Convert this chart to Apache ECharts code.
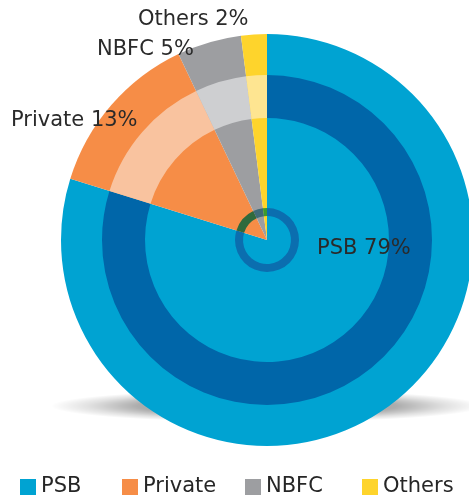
<!DOCTYPE html>
<html>
<head>
<meta charset="utf-8">
<script src="https://cdn.jsdelivr.net/npm/echarts@6/dist/echarts.min.js"></script>
<style>
	html, body { margin: 0; padding: 0; background: #fff; }
	#chart { width: 469px; height: 499px; }
</style>
</head>
<body>
<div id="chart"></div>
<script>
	// 数据
	var categories = ['PSB', 'Private', 'NBFC', 'Others'];
	var shares = [79, 13, 5, 2];
	// 颜色
	var mainColors = ['#00a3d2', '#f68d47', '#9d9ea1', '#fed42c'];
	var ringColors = ['#0066a9', '#f9c39f', '#cecfd1', '#fee591'];
	var hubColors = ['#0b6eaf', '#2f6a3d', '#3f6b78', '#3c9a2e'];
	// 标签位置（左, 中）
	var labelPos = [[317, 249], [11, 121], [97, 50], [138, 20]];
	// 图例位置
	var legendLeft = [20, 122, 245, 362];

	var font = 'DejaVu Sans';
	var cx = 267, cy = 240;

	function buildData(colors) {
		return categories.map(function(name, i) {
			return { name: name, value: shares[i], itemStyle: { color: colors[i] } };
		});
	}

	var myChart = echarts.init(document.getElementById('chart'));
	var option = {
		animation: false,
		legend: categories.map(function(name, i) {
			return {
				top: 476,
				left: legendLeft[i],
				padding: 0,
				icon: 'rect',
				itemWidth: 16, itemHeight: 16,
				selectedMode: false,
				data: [name],
				textStyle: { fontFamily: font, fontSize: 21, color: '#262626', lineHeight: 22 }
			};
		}),
		graphic: [{
			type: 'circle',
			x: cx, y: 406,
			scaleY: 0.075,
			z: -10,
			silent: true,
			shape: { cx: 0, cy: 0, r: 216 },
			style: {
				fill: new echarts.graphic.RadialGradient(0.5, 0.5, 0.5, [
					{ offset: 0, color: 'rgba(0,0,0,0.5)' },
					{ offset: 0.6, color: 'rgba(0,0,0,0.32)' },
					{ offset: 0.82, color: 'rgba(0,0,0,0.12)' },
					{ offset: 1, color: 'rgba(0,0,0,0)' }
				])
			}
		}],
		series: [{
			name: 'main',
			type: 'pie',
			center: [cx, cy],
			radius: [0, 206],
			startAngle: 90,
			silent: true,
			data: buildData(mainColors),
			label: {
				show: true,
				position: 'inside',
				formatter: '{b} {c}%',
				fontFamily: font, fontSize: 21, color: '#2a2a2a'
			},
			labelLine: { show: false },
			labelLayout: function(params) {
				var p = labelPos[params.dataIndex];
				return { x: p[0], y: p[1], align: 'left', verticalAlign: 'middle' };
			}
		}, {
			name: 'ring',
			type: 'pie',
			center: [cx, cy],
			radius: [122, 165],
			startAngle: 90,
			silent: true,
			label: { show: false },
			labelLine: { show: false },
			data: buildData(ringColors)
		}, {
			name: 'hub',
			type: 'pie',
			center: [cx, cy],
			radius: [24, 32],
			startAngle: 90,
			silent: true,
			label: { show: false },
			labelLine: { show: false },
			data: buildData(hubColors)
		}]
	};
	myChart.setOption(option);
</script>
</body>
</html>
